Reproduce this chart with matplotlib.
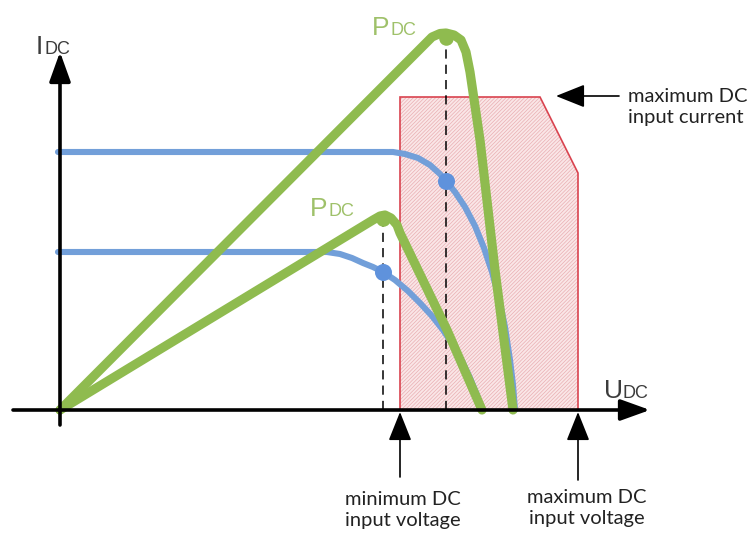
import matplotlib
matplotlib.use("Agg")
import matplotlib.pyplot as plt
from matplotlib.patches import Polygon

# ---- schematic data (voltage U, current/power I in arbitrary units) ----
# I-V curve of the stronger string
iv_high_u = [-2, 100, 200, 300, 333, 345, 358, 370, 380, 386, 395, 405, 415,
             424, 432, 439, 445, 450, 453, 455]
iv_high_i = [258, 258, 258, 258, 258, 256, 252, 245, 236, 229, 218, 203, 184,
             162, 138, 112, 83, 50, 25, 0]
# I-V curve of the weaker string
iv_low_u = [-2, 100, 200, 267, 280, 292, 303, 313, 323, 335, 348, 360, 372,
            383, 393, 402, 410, 417, 422]
iv_low_i = [158, 158, 158, 158, 156, 152, 147, 143, 138, 130, 119, 107, 94,
            80, 65, 49, 32, 15, 0]

# P-V curves
pv_high_u = [0, 372, 380, 386, 394, 401, 406, 410, 420, 435, 453]
pv_high_p = [0, 373, 376.5, 377, 375, 370, 358, 338, 270, 140, 0]
pv_low_u = [0, 313, 320, 325, 331, 337, 340, 387, 422]
pv_low_p = [0, 190, 194, 195, 192, 185, 177, 80, 0]

# maximum power points (on I-V and P-V curves)
mpp_u = [386, 323]
mpp_i = [229, 138]
mpp_p = [372, 191]

# inverter operating window
window_u = [340, 340, 480, 518, 518]
window_i = [0, 313, 313, 237, 0]

BLUE = "#729fd9"
BLUE_DOT = "#5f92dc"
GREEN = "#8fbb4f"
GREEN_TXT = "#9fc16a"
RED = "#d9434f"
TXT = "#3c3c3c"
LABEL_FONT = "Liberation Sans"

plt.rcParams["hatch.linewidth"] = 0.5
fig = plt.figure(figsize=(7.52, 5.35), dpi=100)
ax = fig.add_axes([0, 0, 1, 1])
ax.set_xlim(-60, 692)
ax.set_ylim(-125, 410)
ax.axis("off")

# operating window: hatched fill plus red outline
win_xy = list(zip(window_u, window_i))
ax.add_patch(Polygon(win_xy, closed=True, facecolor="#fae6e7", edgecolor="#e9aeb2",
                     hatch="/" * 9, lw=0, zorder=1))
ax.add_patch(Polygon(win_xy, closed=True, fill=False, edgecolor=RED, lw=1.2, zorder=2))

# dashed guides at the MPP voltages
for u, p in zip(mpp_u, mpp_p):
    ax.plot([u, u], [0, p], color="black", lw=1.1, ls=(0, (6, 4)), zorder=3)

# I-V curves
for u, i in ((iv_high_u, iv_high_i), (iv_low_u, iv_low_i)):
    ax.plot(u, i, color=BLUE, lw=4.4, solid_joinstyle="round",
            solid_capstyle="round", zorder=4)
ax.scatter(mpp_u, mpp_i, s=150, color=BLUE_DOT, zorder=5, lw=0)

# P-V curves
for u, p in ((pv_high_u, pv_high_p), (pv_low_u, pv_low_p)):
    ax.plot(u, p, color=GREEN, lw=6.6, solid_joinstyle="round",
            solid_capstyle="round", zorder=6)
ax.scatter(mpp_u, mpp_p, s=110, color=GREEN, zorder=7, lw=0)

# axes with arrow heads
axis_arrow = dict(arrowstyle="-|>,head_length=1.0,head_width=0.36",
                  mutation_scale=18, lw=2.6, color="black", shrinkA=0, shrinkB=0)
ax.annotate("", xy=(590, 0), xytext=(-47, 0), arrowprops=axis_arrow, zorder=8)
ax.annotate("", xy=(0, 358), xytext=(0, -15), arrowprops=axis_arrow, zorder=8)

# axis labels
lab = dict(family=LABEL_FONT, ha="left", va="baseline")
ax.text(-24, 356, "I", fontsize=19, color=TXT, **lab)
ax.text(-16, 356, "DC", fontsize=13, color=TXT, **lab)
ax.text(544, 12, "U", fontsize=19, color=TXT, **lab)
ax.text(562, 12, "DC", fontsize=13, color=TXT, **lab)

# P_DC labels
ax.text(312, 375, "P", fontsize=19, color=GREEN_TXT, **lab)
ax.text(330, 375, "DC", fontsize=13, color=GREEN_TXT, **lab)
ax.text(250, 194, "P", fontsize=19, color=GREEN_TXT, **lab)
ax.text(268, 194, "DC", fontsize=13, color=GREEN_TXT, **lab)

# annotations
note_kw = dict(fontsize=14.5, color="#222222", family="Lato", linespacing=1.3)
arrow_kw = dict(arrowstyle="-|>,head_length=1.0,head_width=0.4",
                mutation_scale=18, lw=1.2, color="black", shrinkA=0, shrinkB=0)
ax.annotate("", xy=(496, 314), xytext=(559, 314), arrowprops=arrow_kw, zorder=8)
ax.text(568, 303, "maximum DC\ninput current", ha="left", va="center", **note_kw)

ax.annotate("", xy=(340, -2), xytext=(340, -67), arrowprops=arrow_kw, zorder=8)
ax.text(343, -100, "minimum DC\ninput voltage", ha="center", va="center", **note_kw)

ax.annotate("", xy=(518, -2), xytext=(518, -70), arrowprops=arrow_kw, zorder=8)
ax.text(527, -98, "maximum DC\ninput voltage", ha="center", va="center", **note_kw)

fig.savefig("out.png", dpi=100, facecolor="white")
